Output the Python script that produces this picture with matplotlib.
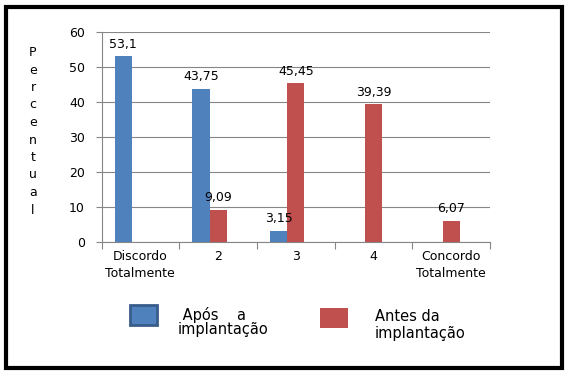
import numpy as np
import matplotlib.pyplot as plt
from matplotlib.patches import Rectangle

# Dados
categorias = ['Discordo\nTotalmente', '2', '3', '4', 'Concordo\nTotalmente']
apos = [53.1, 43.75, 3.15, 0, 0]
antes = [0, 9.09, 45.45, 39.39, 6.07]
rotulos_apos = ['53,1', '43,75', '3,15', '', '']
rotulos_antes = ['', '9,09', '45,45', '39,39', '6,07']

azul = '#4F81BD'
vermelho = '#C0504D'
cinza = '#868686'

fig = plt.figure(figsize=(5.68, 3.75), dpi=100)
ax = fig.add_axes([0.1787, 0.3555, 0.6840, 0.5584])

x = np.arange(len(categorias))
w = 0.22
ax.bar(x - 0.11 - w / 2, apos, w, color=azul, zorder=3)
ax.bar(x, antes, w, color=vermelho, zorder=3)

# rótulos de dados
for i in range(len(categorias)):
    if rotulos_apos[i]:
        ax.annotate(rotulos_apos[i], (x[i] - 0.11 - w / 2, apos[i]), xytext=(0, 4),
                    textcoords='offset points', ha='center', va='bottom', fontsize=9)
    if rotulos_antes[i]:
        ax.annotate(rotulos_antes[i], (x[i], antes[i]), xytext=(0, 4),
                    textcoords='offset points', ha='center', va='bottom', fontsize=9)

ax.set_xlim(-0.5, len(categorias) - 0.5)
ax.set_ylim(0, 60)
ax.set_yticks(range(0, 61, 10))
ax.set_xticks(x)
ax.set_xticklabels(categorias, fontsize=9, linespacing=1.4)
ax.set_xticks(np.arange(-0.5, len(categorias)), minor=True)
ax.tick_params(axis='x', which='major', length=0, pad=6)
ax.tick_params(axis='x', which='minor', length=5, color=cinza, width=0.8)
ax.tick_params(axis='y', length=4, color=cinza, width=0.8, labelsize=9, pad=8)

ax.grid(axis='y', color=cinza, linewidth=0.8, zorder=0)
for lado in ['top', 'right']:
    ax.spines[lado].set_visible(False)
ax.spines['left'].set_color(cinza)
ax.spines['bottom'].set_color(cinza)
ax.spines['left'].set_linewidth(0.8)
ax.spines['bottom'].set_linewidth(0.8)

# rótulo vertical letra a letra
fig.text(0.058, 0.65, '\n'.join('Percentual'), ha='center', va='center',
         fontsize=9, linespacing=1.45)

# legenda desenhada à mão
fig.patches.append(Rectangle((130 / 568, 1 - 325 / 375), 27 / 568, 20 / 375,
                             transform=fig.transFigure, facecolor=azul,
                             edgecolor='#385D8A', linewidth=2))
fig.text(178 / 568, 1 - 322 / 375, ' Após    a\nimplantação', fontsize=10.5,
         va='center', ha='left', linespacing=0.95)
fig.patches.append(Rectangle((320 / 568, 1 - 328 / 375), 28 / 568, 20 / 375,
                             transform=fig.transFigure, facecolor=vermelho,
                             edgecolor='none'))
fig.text(375 / 568, 1 - 325 / 375, 'Antes da\nimplantação', fontsize=10.5,
         va='center', ha='left', linespacing=1.1)

# moldura externa
fig.patches.append(Rectangle((6 / 568, 7 / 375), 556 / 568, 361 / 375,
                             transform=fig.transFigure, fill=False,
                             edgecolor='black', linewidth=3))

fig.savefig('out.png', dpi=100)
